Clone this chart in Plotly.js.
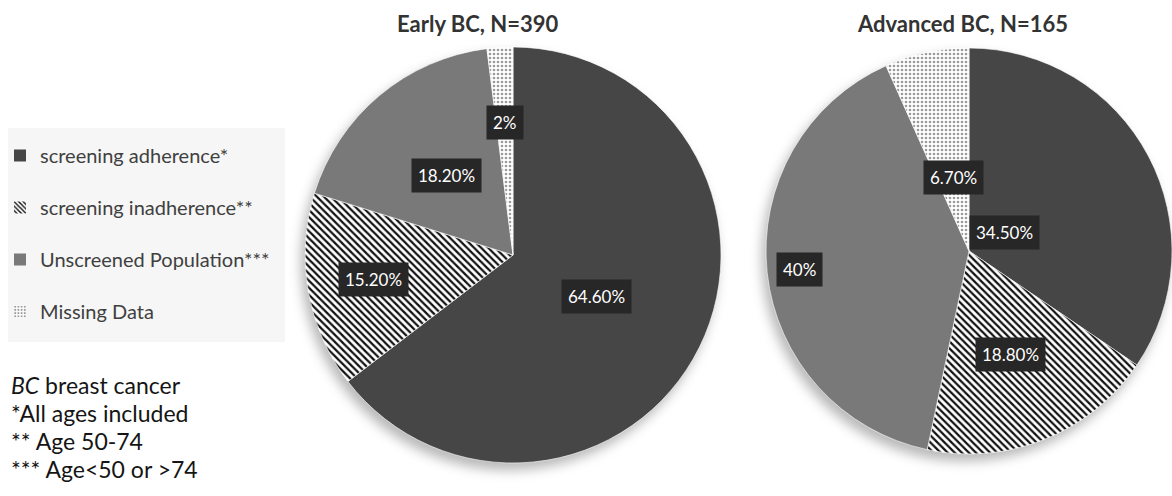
<!DOCTYPE html>
<html>
<head>
<meta charset="utf-8">
<script src="https://cdn.plot.ly/plotly-3.0.1.min.js"></script>
<style>
html,body{margin:0;padding:0;background:#fff;}
#chart{width:1172px;height:496px;}
#chart g.pielayer{filter: drop-shadow(-4px 7px 6px rgba(0,0,0,0.28));}
</style>
</head>
<body>
<div id="chart"></div>
<script>
// ---- data ----
const categories = ["screening adherence*", "screening inadherence**", "Unscreened Population***", "Missing Data"];
const earlyValues = [64.6, 15.2, 18.2, 2];
const advancedValues = [34.5, 18.8, 40, 6.7];
const earlyLabels = ["64.60%", "15.20%", "18.20%", "2%"];
const advancedLabels = ["34.50%", "18.80%", "40%", "6.70%"];
const pieTitles = ["Early BC, N=390", "Advanced BC, N=165"];
const footnotes = ["<i>BC</i> breast cancer", "*All ages included", "** Age 50-74", "*** Age<50 or >74"];

// ---- styles ----
const W = 1172, H = 496;
const FONT = "Lato, 'Open Sans', sans-serif";
const sliceColors = ["#464646", "#ffffff", "#797979", "#ffffff"];
const patShapes = ["", "\\", "", "."];
const patFg = ["#464646", "#111111", "#797979", "#9a9a9a"];
const patBg = ["#464646", "#ffffff", "#797979", "#ffffff"];
const patSize = [6, 5, 6, 4];
const patSolid = [0.3, 0.45, 0.3, 0.35];
// pie geometry (pixels)
const pies = [
  {cx: 513, cy: 255, r: 208, labelR: [0.45, 0.68, 0.5, 0.64], titleX: 478},
  {cx: 969, cy: 251, r: 203, labelR: [0.2, 0.55, 0.84, 0.37], titleX: 962}
];
const valueSets = [earlyValues, advancedValues];
const labelSets = [earlyLabels, advancedLabels];

function domainOf(p) {
  return {
    x: [(p.cx - p.r) / W, Math.min(1, (p.cx + p.r) / W)],
    y: [(H - p.cy - p.r) / H, (H - p.cy + p.r) / H]
  };
}

const traces = [];
pies.forEach((p, k) => {
  traces.push({
    type: "pie",
    labels: categories,
    values: valueSets[k],
    sort: false,
    direction: "clockwise",
    rotation: 0,
    textinfo: "none",
    hoverinfo: "label+percent",
    showlegend: false,
    domain: domainOf(p),
    marker: {
      colors: sliceColors,
      line: {color: "#ffffff", width: 0.6},
      pattern: {shape: patShapes, fgcolor: patFg, bgcolor: patBg, size: patSize, solidity: patSolid, fillmode: "replace"}
    }
  });
});

// legend via empty bar traces (one group each, to get the spacing)
categories.forEach((c, i) => {
  traces.push({
    type: "bar", x: [null], y: [null], name: c, legendgroup: "g" + i, showlegend: true,
    hoverinfo: "skip",
    marker: {
      color: sliceColors[i],
      line: {width: 0},
      pattern: {shape: patShapes[i], fgcolor: patFg[i], bgcolor: patBg[i], size: 4, solidity: patSolid[i]}
    }
  });
});

const annotations = [];
// slice labels computed from the values
pies.forEach((p, k) => {
  const vals = valueSets[k];
  const tot = vals.reduce((a, b) => a + b, 0);
  let cum = 0;
  vals.forEach((v, i) => {
    const mid = (cum + v / 2) / tot * 2 * Math.PI;
    cum += v;
    const px = p.cx + p.labelR[i] * p.r * Math.sin(mid);
    const py = p.cy - p.labelR[i] * p.r * Math.cos(mid);
    annotations.push({
      xref: "paper", yref: "paper", x: px / W, y: (H - py) / H,
      xanchor: "center", yanchor: "middle", showarrow: false,
      text: labelSets[k][i],
      font: {family: FONT, size: 17, color: "#ffffff"},
      bgcolor: "#272727", borderpad: 6
    });
  });
  annotations.push({
    xref: "paper", yref: "paper", x: p.titleX / W, y: (H - 24) / H,
    xanchor: "center", yanchor: "middle", showarrow: false,
    text: "<b>" + pieTitles[k] + "</b>",
    font: {family: FONT, size: 22, color: "#333333"}
  });
});
footnotes.forEach((t, i) => {
  annotations.push({
    xref: "paper", yref: "paper", x: 9 / W, y: (H - (385 + i * 28)) / H,
    xanchor: "left", yanchor: "middle", showarrow: false,
    text: t, font: {family: FONT, size: 23, color: "#151515"}
  });
});

const layout = {
  width: W, height: H,
  margin: {l: 0, r: 0, t: 0, b: 0},
  paper_bgcolor: "#ffffff", plot_bgcolor: "rgba(0,0,0,0)",
  xaxis: {visible: false, domain: [0, 0.01]},
  yaxis: {visible: false, domain: [0, 0.01]},
  showlegend: true,
  legend: {
    x: 0, y: (H - 136) / H, xanchor: "left", yanchor: "top",
    bgcolor: "rgba(0,0,0,0)", borderwidth: 0,
    font: {family: FONT, size: 20, color: "#404040"},
    traceorder: "grouped", tracegroupgap: 23,
    itemwidth: 30, itemclick: false, itemdoubleclick: false
  },
  shapes: [{
    type: "rect", xref: "paper", yref: "paper", layer: "below",
    x0: 8 / W, x1: 285 / W, y0: (H - 342) / H, y1: (H - 128) / H,
    fillcolor: "#f6f6f6", line: {width: 0}
  }],
  annotations: annotations
};

Plotly.newPlot("chart", traces, layout, {displayModeBar: false, staticPlot: true});
</script>
</body>
</html>
